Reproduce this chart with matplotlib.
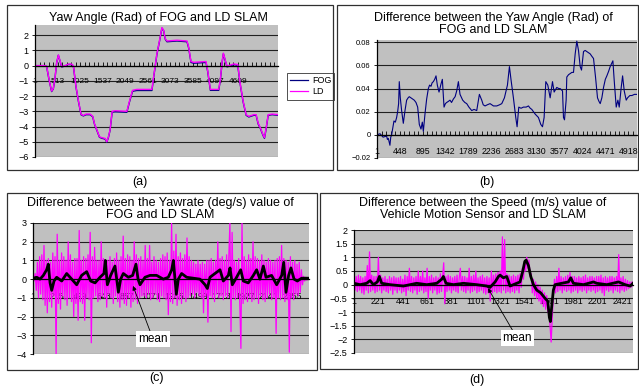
import matplotlib
matplotlib.use("Agg")
import matplotlib.pyplot as plt
from matplotlib.patches import Rectangle
from matplotlib.lines import Line2D
from matplotlib.ticker import FuncFormatter, MultipleLocator

plt.rcParams['font.family'] = ['Liberation Sans', 'DejaVu Sans']

# ---------------- data ----------------
# (a) yaw angle (rad), sample index -> value
yaw_ld = [(1, 0.0), (228, 0.0), (265, -0.05), (326, -1.0), (379, -1.67), (417, -1.5), (455, -0.8),
          (493, 0.2), (531, 0.7), (569, 0.33), (607, -0.07), (683, 0.0), (758, 0.1), (834, 0.1),
          (872, 0.0), (933, -1.4), (986, -2.3), (1047, -3.2), (1100, -3.27), (1160, -3.18),
          (1251, -3.18), (1312, -3.33), (1350, -3.8), (1403, -4.2), (1464, -4.67), (1517, -4.73),
          (1593, -4.78), (1631, -5.0), (1669, -4.67), (1706, -4.2), (1752, -3.0), (1820, -2.96),
          (2086, -3.0), (2146, -2.33), (2215, -1.62), (2313, -1.56), (2655, -1.56), (2692, -0.78),
          (2768, 0.78), (2829, 1.67), (2882, 2.5), (2920, 2.33), (2958, 1.78), (2996, 1.62),
          (3223, 1.67), (3451, 1.62), (3489, 1.22), (3542, 0.27), (3603, 0.22), (3883, 0.27),
          (3921, -0.33), (3982, -1.56), (4171, -1.56), (4209, -0.89), (4247, 0.22), (4277, 0.82),
          (4323, 0.33), (4361, -0.04), (4513, 0.11), (4604, 0.07), (4649, -1.0), (4725, -2.33),
          (4794, -3.22), (4854, -3.33), (4968, -3.22), (5021, -3.22), (5066, -3.78), (5119, -4.1),
          (5180, -4.56), (5210, -4.73), (5248, -4.1), (5294, -3.22), (5385, -3.18), (5517, -3.22)]
yaw_fog = [(1, 0.0), (228, 0.0), (265, -0.06), (326, -1.02), (379, -1.7), (417, -1.52), (455, -0.83),
           (493, 0.18), (531, 0.68), (569, 0.3), (607, -0.09), (683, -0.02), (758, 0.08), (834, 0.07),
           (872, -0.03), (933, -1.43), (986, -2.33), (1047, -3.23), (1100, -3.3), (1160, -3.22),
           (1251, -3.22), (1312, -3.36), (1350, -3.83), (1403, -4.23), (1464, -4.7), (1517, -4.77),
           (1593, -4.82), (1631, -5.03), (1669, -4.7), (1706, -4.23), (1752, -3.05), (1820, -3.03),
           (2086, -3.06), (2146, -2.38), (2215, -1.68), (2313, -1.63), (2655, -1.63), (2692, -0.82),
           (2768, 0.74), (2829, 1.63), (2882, 2.46), (2920, 2.3), (2958, 1.74), (2996, 1.57),
           (3223, 1.62), (3451, 1.57), (3489, 1.17), (3542, 0.21), (3603, 0.16), (3883, 0.21),
           (3921, -0.38), (3982, -1.62), (4171, -1.62), (4209, -0.94), (4247, 0.17), (4277, 0.78),
           (4323, 0.29), (4361, -0.08), (4513, 0.07), (4604, 0.03), (4649, -1.04), (4725, -2.37),
           (4794, -3.26), (4854, -3.37), (4968, -3.26), (5021, -3.26), (5066, -3.82), (5119, -4.14),
           (5180, -4.6), (5210, -4.77), (5248, -4.14), (5294, -3.26), (5385, -3.22), (5517, -3.26)]
a_labels = ['1', '513', '1025', '1537', '2049', '2561', '3073', '3585', '4097', '4609']

# (b) yaw angle difference FOG - LD (rad)
yaw_diff = [(1, 0.0), (60, 0.001), (120, -0.002), (189, -0.001), (205, -0.004), (222, -0.003),
            (238, -0.006), (254, -0.009), (270, -0.002), (287, 0.0), (310, 0.006), (333, 0.012),
            (360, 0.011), (385, 0.015), (405, 0.02), (424, 0.027), (437, 0.046), (457, 0.032),
            (483, 0.021), (500, 0.015), (516, 0.010), (549, 0.021), (581, 0.030), (610, 0.032),
            (633, 0.033), (665, 0.032), (699, 0.031), (730, 0.030), (764, 0.028), (797, 0.024),
            (829, 0.009), (862, 0.005), (888, 0.011), (908, 0.003), (940, 0.018), (973, 0.031),
            (1006, 0.040), (1030, 0.043), (1058, 0.042), (1080, 0.045), (1104, 0.046), (1130, 0.048),
            (1156, 0.051), (1182, 0.043), (1215, 0.037), (1254, 0.044), (1280, 0.048), (1313, 0.024),
            (1340, 0.027), (1365, 0.028), (1400, 0.029), (1430, 0.030), (1460, 0.028), (1496, 0.031),
            (1530, 0.033), (1561, 0.038), (1594, 0.046), (1626, 0.035), (1678, 0.030), (1720, 0.028),
            (1757, 0.027), (1800, 0.024), (1855, 0.021), (1900, 0.022), (1953, 0.021), (2005, 0.035),
            (2051, 0.030), (2080, 0.026), (2116, 0.025), (2160, 0.026), (2214, 0.027), (2280, 0.025),
            (2345, 0.025), (2400, 0.026), (2443, 0.027), (2495, 0.032), (2554, 0.043), (2593, 0.059),
            (2626, 0.047), (2671, 0.032), (2717, 0.015), (2743, 0.007), (2776, 0.024), (2820, 0.023),
            (2867, 0.024), (2920, 0.024), (2965, 0.025), (3000, 0.023), (3031, 0.022), (3096, 0.018),
            (3161, 0.015), (3207, 0.009), (3240, 0.007), (3272, 0.015), (3305, 0.046), (3344, 0.043),
            (3390, 0.032), (3436, 0.046), (3468, 0.037), (3520, 0.041), (3560, 0.040), (3586, 0.040),
            (3632, 0.038), (3651, 0.015), (3671, 0.013), (3703, 0.030), (3716, 0.050), (3750, 0.052),
            (3782, 0.053), (3815, 0.054), (3847, 0.054), (3880, 0.070), (3912, 0.081), (3945, 0.073),
            (3978, 0.059), (4004, 0.056), (4043, 0.072), (4075, 0.073), (4108, 0.072), (4140, 0.071),
            (4174, 0.070), (4205, 0.068), (4239, 0.066), (4278, 0.050), (4317, 0.032), (4345, 0.029),
            (4370, 0.027), (4402, 0.032), (4435, 0.041), (4470, 0.048), (4500, 0.051), (4535, 0.055),
            (4565, 0.059), (4618, 0.064), (4644, 0.047), (4683, 0.024), (4716, 0.030), (4742, 0.024),
            (4781, 0.041), (4808, 0.051), (4840, 0.038), (4879, 0.030), (4905, 0.032), (4950, 0.034),
            (4990, 0.034), (5040, 0.035), (5090, 0.035)]
b_labels = ['1', '448', '895', '1342', '1789', '2236', '2683', '3130', '3577', '4024', '4471', '4918']

# (c) yaw rate difference (deg/s), one value every 10 samples starting at 1
yawrate_step = 10
yawrate_diff = [
    0.1, -0.1, 0.3, -0.6, 0.9, -1.0, 1.2, -0.8, 1.3, -1.1, 1.8, -1.4, 1.0, -1.8, 1.1, -1.2, 0.9, -1.5, 1.4, -0.9,
    1.2, -4.0, 2.4, -1.3, 1.0, -1.6, 1.4, -0.9, 1.2, -1.1, 1.0, -1.4, 2.0, -1.0, 1.3, -1.2, 0.9, -2.0, 1.1, -1.3,
    1.1, -2.2, 2.6, -1.2, 1.0, -1.3, 1.2, -2.2, 1.1, -1.0, 1.3, -1.1, 2.5, -3.4, 1.2, -1.0, 1.7, -0.9, 1.0, -1.2,
    1.0, -1.1, 2.0, -0.9, 1.1, -1.0, 0.8, -1.5, 1.0, -0.8, 1.2, -1.0, 0.9, -1.3, 1.1, -0.9, 1.4, -1.2, 1.0, -1.5,
    1.2, -1.1, 2.3, -1.3, 1.1, -1.4, 1.3, -1.0, 1.2, -1.5, 1.0, -1.2, 2.0, -1.1, 1.3, -1.3, 1.1, -1.0, 1.2, -0.9,
    1.0, -0.9, 1.8, -1.0, 1.1, -0.8, 1.8, -1.1, 0.9, -1.0, 1.2, -0.8, 1.0, -1.1, 0.9, -1.2, 1.1, -0.9, 1.3, -1.0,
    1.2, -1.1, 1.4, -1.9, 1.0, -1.2, 3.0, -1.3, 1.5, -1.0, 2.4, -1.4, 1.2, -1.1, 1.4, -1.3, 1.1, -1.0, 1.3, -1.2,
    2.2, -1.0, 1.2, -0.9, 1.0, -0.8, 0.9, -1.0, 0.8, -0.7, 1.0, -0.9, 0.8, -1.0, 0.9, -1.8, 0.8, -0.9, 1.0, -2.3,
    1.0, -0.9, 1.1, -1.0, 0.9, -1.2, 1.0, -0.8, 2.0, -1.0, 1.1, -0.9, 1.2, -1.1, 1.0, -0.9, 1.3, -1.0, 1.2, 3.0,
    -2.8, 2.5, -1.0, 1.0, -1.1, 0.9, -1.0, 1.1, -1.2, -3.7, 3.0, -1.3, 1.2, -1.1, 1.0, -1.2, 1.3, -1.0, 1.1, -1.2,
    2.0, -1.1, 1.2, -1.0, 1.1, -1.3, 1.0, -0.9, 1.3, -1.1, 1.0, -1.2, 0.9, -1.0, 1.1, -0.8, 1.0, -1.1, 0.9, -1.0,
    1.0, -2.9, 1.1, -1.0, 1.2, -1.1, 1.8, -1.0, 1.1, -1.2, 1.0, -1.1, 0.9, -3.9, 1.2, -1.0, 0.9, -1.1, 1.0, -0.8,
    0.8, -0.9, 0.9, -0.7, 0.5, -0.3, 0.15, -0.1, 0.1, -0.05, 0.05]
yawrate_mean = [(4, 0.05), (34, 0.1), (65, 0.0), (95, 0.2), (125, 0.5), (140, 0.8), (156, -0.2),
                (171, -0.6), (192, -0.1), (216, 0.1), (262, -0.1), (307, 0.3), (353, 0.0), (398, -0.3),
                (443, 0.2), (489, 0.4), (525, -0.1), (565, -0.2), (610, 0.1), (646, 0.3), (658, 1.0),
                (677, -0.3), (707, 0.2), (746, 0.7), (762, 0.0), (777, -0.7), (798, 0.0), (822, 0.3),
                (868, 0.1), (907, 0.2), (937, 0.8), (956, 0.0), (974, -0.3), (1019, 0.1), (1065, 0.2),
                (1125, 0.2), (1186, 0.0), (1231, 0.1), (1262, 0.5), (1277, 1.0), (1292, 0.0), (1304, -0.8),
                (1322, 0.0), (1352, 0.3), (1398, 0.1), (1458, 0.05), (1519, 0.0), (1565, -0.3), (1586, -0.5),
                (1610, 0.1), (1655, 0.3), (1701, 0.5), (1731, -0.1), (1777, 0.2), (1792, 0.6), (1813, -0.3),
                (1852, 0.1), (1889, 0.5), (1913, -0.1), (1958, -0.2), (2004, 0.2), (2034, 0.5), (2064, 0.0),
                (2095, 0.7), (2119, 0.1), (2170, 0.2), (2216, -0.3), (2262, 0.2), (2280, 0.9), (2301, -0.7),
                (2325, 0.2), (2346, 0.6), (2374, 0.0), (2404, -0.1), (2443, 0.05), (2510, 0.05)]
c_labels = ['1', '215', '429', '643', '857', '1071', '1285', '1499', '1713', '1927', '2141', '2355']

# (d) speed difference (m/s), one value every 10 samples starting at 1
speed_step = 10
speed_diff = [
    0.15, -0.2, 0.3, -0.25, 0.35, -0.2, 0.3, -0.3, 0.25, -0.35, 0.3, -0.2, 0.7, -0.3, 1.2, -0.25, 0.35, -0.2, 0.3, -0.3,
    0.3, -0.25, 1.0, -0.2, 0.35, -0.3, 0.25, -0.2, 0.3, -0.25, 0.2, -0.3, 0.3, -0.2, 0.25, -0.35, 0.3, -0.2, 0.25, -0.3,
    0.25, -0.2, 0.3, -0.3, 0.2, -0.25, 0.35, -0.4, 0.3, -0.2, 0.6, -0.25, 0.3, -0.3, 0.25, -0.2, 0.3, -0.35, 0.5, -0.25,
    0.3, -0.2, 0.5, -0.3, 0.25, -0.25, 0.6, -0.5, 0.3, -0.2, 0.35, -0.3, 0.25, -0.2, 0.3, -0.35, 0.25, -0.3, 0.4, -0.25,
    0.3, 0.8, -0.7, 0.3, -0.25, 0.35, -0.2, 0.3, -0.3, 0.25, -0.2, 0.3, -0.25, 0.35, -0.3, 0.25, 0.6, -0.2, 0.3, -0.25,
    0.3, -0.3, 0.25, -0.2, 0.6, -0.3, 0.3, -0.25, 0.35, -0.2, 0.5, -0.3, 0.25, -0.25, 0.3, -0.2, 0.35, -0.3, 0.25, -0.35,
    0.3, -0.3, 0.25, -0.6, 0.5, -0.3, 0.35, -0.25, 0.4, -0.3, 0.45, -0.25, 0.5, -0.3, 1.75, -0.2, 1.65, -0.3, 0.4, -0.25,
    0.35, -0.3, 0.3, -0.25, 0.35, -0.3, 0.3, -0.2, 0.35, -0.3, 0.4, -0.1, 0.6, 0.2, 0.8, 0.5, 1.0, 0.6, 0.9, 0.3,
    0.4, -0.3, 0.2, -0.4, 0.1, -0.5, 0.0, -0.6, -0.1, -0.7, -0.2, -0.8, -0.3, -0.9, -0.4, -1.0, -0.8, -1.5, -2.1, -1.2,
    -0.4, 0.2, -0.3, 0.3, -0.25, 0.6, -0.2, 0.3, -0.3, 0.25, -0.2, 0.3, -0.25, 0.35, -0.2, 0.45, -0.3, 0.3, -0.25, 0.3,
    -0.2, 0.25, -0.3, 0.3, -0.2, 0.25, -0.25, 0.3, -0.2, 0.35, -0.3, 0.25, -0.2, 0.3, -0.25, 0.3, -0.2, 0.25, -0.3, 0.3,
    -0.25, 0.3, -0.2, 0.35, -0.3, 0.25, -0.4, 0.3, -0.2, 0.25, -0.25, 0.3, -0.2, 0.3, -0.3, 0.25, -0.2, 0.3, -0.25, 1.1,
    -0.3, 0.25, -0.2, 0.3, -0.25, 0.2, -0.2, 0.15, -0.15, 0.1, -0.1, 0.1, -0.05]
speed_mean = [(1, 0.05), (55, 0.0), (115, 0.05), (146, 0.15), (176, 0.0), (212, 0.1), (230, 0.3),
              (251, 0.05), (326, 0.0), (447, -0.05), (567, 0.05), (658, 0.0), (748, 0.05), (793, 0.2),
              (808, 0.3), (832, 0.05), (899, 0.0), (989, 0.05), (1109, 0.0), (1199, -0.05), (1229, -0.1),
              (1275, 0.1), (1305, 0.3), (1320, 0.35), (1350, 0.25), (1380, 0.3), (1410, -0.05), (1470, 0.05),
              (1500, 0.1), (1525, 0.5), (1543, 0.85), (1555, 0.9), (1576, 0.7), (1597, 0.3), (1621, 0.0),
              (1651, -0.2), (1687, -0.3), (1726, -0.5), (1750, -0.6), (1765, -1.2), (1774, -1.35),
              (1786, -0.8), (1801, -0.2), (1816, 0.0), (1876, 0.05), (1937, 0.1), (1958, 0.25), (1982, 0.05),
              (2073, 0.0), (2163, 0.1), (2193, 0.05), (2284, 0.0), (2389, 0.1), (2449, 0.0), (2494, -0.05),
              (2520, 0.05)]
d_labels = ['1', '221', '441', '661', '881', '1101', '1321', '1541', '1761', '1981', '2201', '2421']

# ---------------- layout helpers ----------------
W, H = 639, 388
NAVY = '#000080'
MAG = '#ff00ff'
GREY = '#c0c0c0'

fig = plt.figure(figsize=(W / 100, H / 100), dpi=100)
fig.patch.set_facecolor('white')


def px_axes(x0, y0, x1, y1):
    return fig.add_axes([x0 / W, 1 - y1 / H, (x1 - x0) / W, (y1 - y0) / H])


def frame(x0, y0, x1, y1):
    fig.patches.append(Rectangle((x0 / W, 1 - y1 / H), (x1 - x0) / W, (y1 - y0) / H,
                                 transform=fig.transFigure, fill=False,
                                 ec='#303030', lw=0.9, zorder=0.1))


def fmt(v, pos):
    return f"{v:g}".replace('-', '\u2212')


def excel_axes(ax, xlim, ylim, yticks, labels, minor, xfs, yfs, tick_len=3):
    ax.set_facecolor(GREY)
    ax.set_xlim(xlim)
    ax.set_ylim(ylim)
    for s in ('top', 'right'):
        ax.spines[s].set_visible(False)
    ax.spines['left'].set_linewidth(0.9)
    ax.spines['bottom'].set_position(('data', 0))
    ax.spines['bottom'].set_linewidth(0.9)
    for v in yticks:
        ax.axhline(v, color='#202020', lw=0.8, zorder=1)
    ax.set_yticks(yticks)
    ax.yaxis.set_major_formatter(FuncFormatter(fmt))
    ax.tick_params(axis='y', direction='out', length=2.5, width=0.6, pad=2, labelsize=yfs)
    step = int(labels[1]) - int(labels[0])
    ax.set_xticks([int(s) for s in labels])
    ax.set_xticklabels(labels)
    ax.xaxis.set_minor_locator(MultipleLocator(step / minor, offset=1))
    ax.tick_params(axis='x', which='both', direction='in', length=tick_len, width=0.6,
                   pad=9, labelsize=xfs)


# ---------------- (a) ----------------
frame(7, 5, 333, 170)
ax = px_axes(35, 25, 278, 157)
excel_axes(ax, (1, 5517), (-6, 2.67), [-6, -5, -4, -3, -2, -1, 0, 1, 2], a_labels, 5, 6, 6.5)
ax.plot([p[0] for p in yaw_fog], [p[1] for p in yaw_fog], color=NAVY, lw=1.0, zorder=2)
ax.plot([p[0] for p in yaw_ld], [p[1] for p in yaw_ld], color=MAG, lw=1.0, zorder=2.1)
handles = [Line2D([], [], color=NAVY, lw=0.9), Line2D([], [], color=MAG, lw=0.9)]
leg = ax.legend(handles, ['FOG', 'LD'], loc='upper left', bbox_to_anchor=(287 / W, 1 - 73 / H),
                bbox_transform=fig.transFigure, fontsize=6.5, frameon=True, fancybox=False,
                edgecolor='black', borderpad=0.35, labelspacing=0.25, handlelength=2.0,
                handletextpad=0.4, borderaxespad=0)
leg.get_frame().set_linewidth(0.6)
fig.text(158 / W, 1 - 18 / H, 'Yaw Angle (Rad) of FOG and LD SLAM', ha='center', va='center', fontsize=9)
fig.text(140 / W, 1 - 182 / H, '(a)', ha='center', va='center', fontsize=9)

# ---------------- (b) ----------------
frame(337, 5, 638, 170)
ax = px_axes(377, 40, 637, 158)
excel_axes(ax, (1, 5090), (-0.02, 0.082), [-0.02, 0, 0.02, 0.04, 0.06, 0.08], b_labels, 5, 6.3, 5.5)
ax.plot([p[0] for p in yaw_diff], [p[1] for p in yaw_diff], color=NAVY, lw=0.8, zorder=2)
fig.text(493 / W, 1 - 24 / H, 'Difference between the Yaw Angle (Rad) of\nFOG and LD SLAM',
         ha='center', va='center', fontsize=9, linespacing=0.95)
fig.text(487 / W, 1 - 182 / H, '(b)', ha='center', va='center', fontsize=9)

# ---------------- (c) ----------------
frame(7, 193, 317, 370)
ax = px_axes(33, 223, 309, 354)
excel_axes(ax, (1, 2510), (-4, 3), [-4, -3, -2, -1, 0, 1, 2, 3], c_labels, 1, 6.3, 6.5, tick_len=0)
cx = [1 + i * yawrate_step for i in range(len(yawrate_diff))]
ax.plot(cx, yawrate_diff, color=MAG, lw=0.9, zorder=2)
ax.plot([p[0] for p in yawrate_mean], [p[1] for p in yawrate_mean], color='black', lw=2.0, zorder=2.2)
ax.annotate('mean', xy=(910, -0.36), xytext=(1092, -3.2), ha='center', va='center', fontsize=8.5,
            bbox=dict(boxstyle='square,pad=0.15', fc='white', ec='none'),
            arrowprops=dict(arrowstyle='-|>', color='black', lw=0.6, mutation_scale=6, shrinkA=0, shrinkB=0),
            zorder=3)
fig.text(160 / W, 1 - 209 / H, 'Difference between the Yawrate (deg/s) value of\nFOG and LD SLAM',
         ha='center', va='center', fontsize=9, linespacing=0.95)
fig.text(157 / W, 1 - 378 / H, '(c)', ha='center', va='center', fontsize=9)

# ---------------- (d) ----------------
frame(320, 193, 638, 369)
ax = px_axes(354, 230, 633, 353)
excel_axes(ax, (1, 2520), (-2.5, 2), [-2.5, -2, -1.5, -1, -0.5, 0, 0.5, 1, 1.5, 2], d_labels, 1, 6.3, 6.5,
           tick_len=0)
dx = [1 + i * speed_step for i in range(len(speed_diff))]
ax.plot(dx, speed_diff, color=MAG, lw=0.9, zorder=2)
ax.plot([p[0] for p in speed_mean], [p[1] for p in speed_mean], color='black', lw=2.0, zorder=2.2)
ax.annotate('mean', xy=(1211, -0.13), xytext=(1473, -1.95), ha='center', va='center', fontsize=8.5,
            bbox=dict(boxstyle='square,pad=0.15', fc='white', ec='none'),
            arrowprops=dict(arrowstyle='-|>', color='black', lw=0.6, mutation_scale=6, shrinkA=0, shrinkB=0),
            zorder=3)
fig.text(483 / W, 1 - 209 / H, 'Difference between the Speed (m/s) value of\nVehicle Motion Sensor and LD SLAM',
         ha='center', va='center', fontsize=9, linespacing=0.95)
fig.text(477 / W, 1 - 380 / H, '(d)', ha='center', va='center', fontsize=9)

fig.savefig('out.png', dpi=100)
